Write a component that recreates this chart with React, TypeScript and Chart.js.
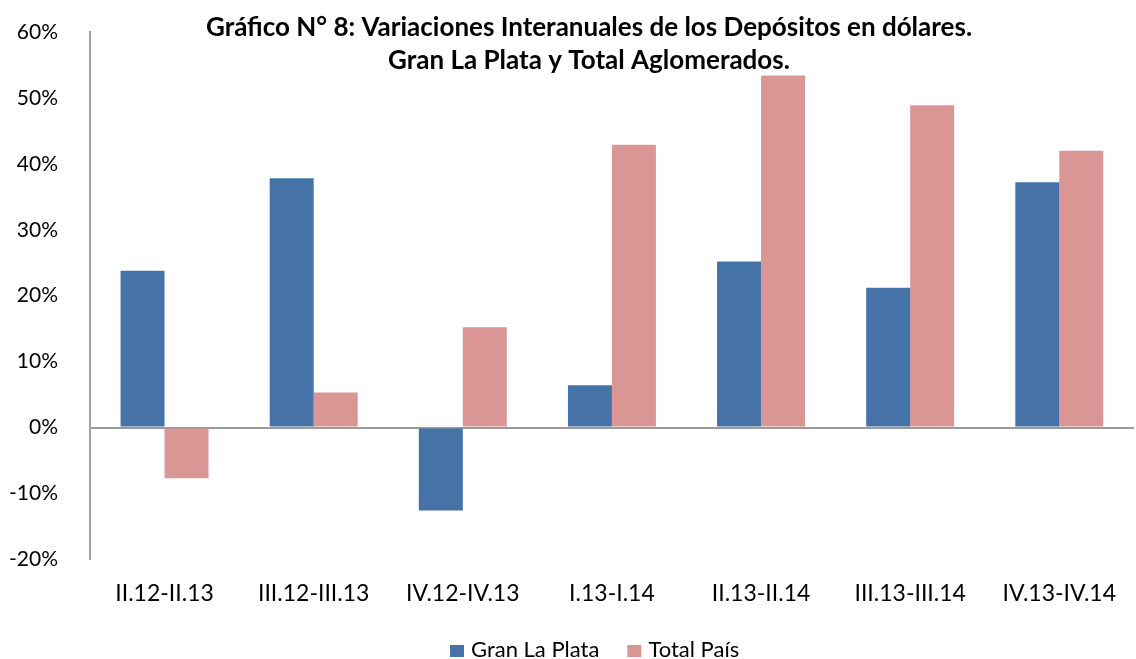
import React, { useEffect, useRef } from "react";
import { Chart, registerables } from "chart.js";

Chart.register(...registerables);

const categories = ["II.12-II.13", "III.12-III.13", "IV.12-IV.13", "I.13-I.14", "II.13-II.14", "III.13-III.14", "IV.13-IV.14"];
const granLaPlata = [23.8, 37.8, -12.6, 6.4, 25.2, 21.2, 37.2];
const totalPais = [-7.7, 5.3, 15.2, 42.9, 53.4, 48.9, 42.0];
const seriesNames = ["Gran La Plata", "Total País"];
const titleLines = ["Gráfico N° 8: Variaciones Interanuales de los Depósitos en dólares.", "Gran La Plata y Total Aglomerados."];

const BLUE = "#4573A7";
const PINK = "#DA9694";
const FONT = "Lato, 'Open Sans', sans-serif";

const titlePlugin = {
  id: "customTitle",
  afterDraw(chart: any) {
    const ctx = chart.ctx;
    ctx.save();
    ctx.fillStyle = "#000";
    ctx.font = `bold 26px ${FONT}`;
    ctx.textAlign = "center";
    ctx.textBaseline = "middle";
    ctx.fillText(titleLines[0], 589, 28);
    ctx.fillText(titleLines[1], 589, 61);
    ctx.restore();
  },
};

const legendPlugin = {
  id: "customLegend",
  afterDraw(chart: any) {
    const ctx = chart.ctx;
    ctx.save();
    ctx.font = `22px ${FONT}`;
    ctx.textBaseline = "middle";
    ctx.textAlign = "left";
    let x = 450;
    const y = 650;
    chart.data.datasets.forEach((ds: any) => {
      ctx.fillStyle = ds.backgroundColor;
      ctx.fillRect(x, y - 5, 14, 12);
      x += 21;
      ctx.fillStyle = "#000";
      ctx.fillText(ds.label, x, y);
      x += ctx.measureText(ds.label).width + 28;
    });
    ctx.restore();
  },
};

export default function App() {
  const ref = useRef<HTMLCanvasElement>(null);
  useEffect(() => {
    if (!ref.current) return;
    const chart = new Chart(ref.current, {
      type: "bar",
      data: {
        labels: categories,
        datasets: [
          { label: seriesNames[0], data: granLaPlata, backgroundColor: BLUE },
          { label: seriesNames[1], data: totalPais, backgroundColor: PINK },
        ],
      },
      options: {
        animation: false,
        responsive: true,
        maintainAspectRatio: false,
        layout: { padding: { top: 32, left: 0, right: 0, bottom: 32 } },
        datasets: {
          bar: { categoryPercentage: 0.59, barPercentage: 1.0 },
        },
        plugins: {
          legend: { display: false },
          title: { display: false },
          tooltip: { enabled: false },
        },
        scales: {
          x: {
            grid: { display: false, drawTicks: false },
            border: { display: false },
            ticks: { color: "#000", font: { family: FONT, size: 23 }, padding: 20, maxRotation: 0 },
          },
          y: {
            min: -20,
            max: 60,
            afterFit(scale: any) {
              scale.width = 90;
            },
            grid: {
              drawTicks: true,
              tickLength: 32,
              tickColor: "transparent",
              color: (c: any) => (c.tick && c.tick.value === 0 ? "#9A9A9A" : "transparent"),
              lineWidth: 2,
            },
            border: { display: true, color: "#A0A0A0", width: 2 },
            ticks: {
              stepSize: 10,
              color: "#000",
              padding: 0,
              font: { family: FONT, size: 21 },
              callback: (v: any) => `${v}%`,
            },
          },
        },
      },
      plugins: [titlePlugin, legendPlugin],
    });
    return () => chart.destroy();
  }, []);
  return (
    <div style={{ position: "absolute", left: 0, top: 0, width: 1136, height: 659, background: "#fff" }}>
      <canvas ref={ref} />
    </div>
  );
}
